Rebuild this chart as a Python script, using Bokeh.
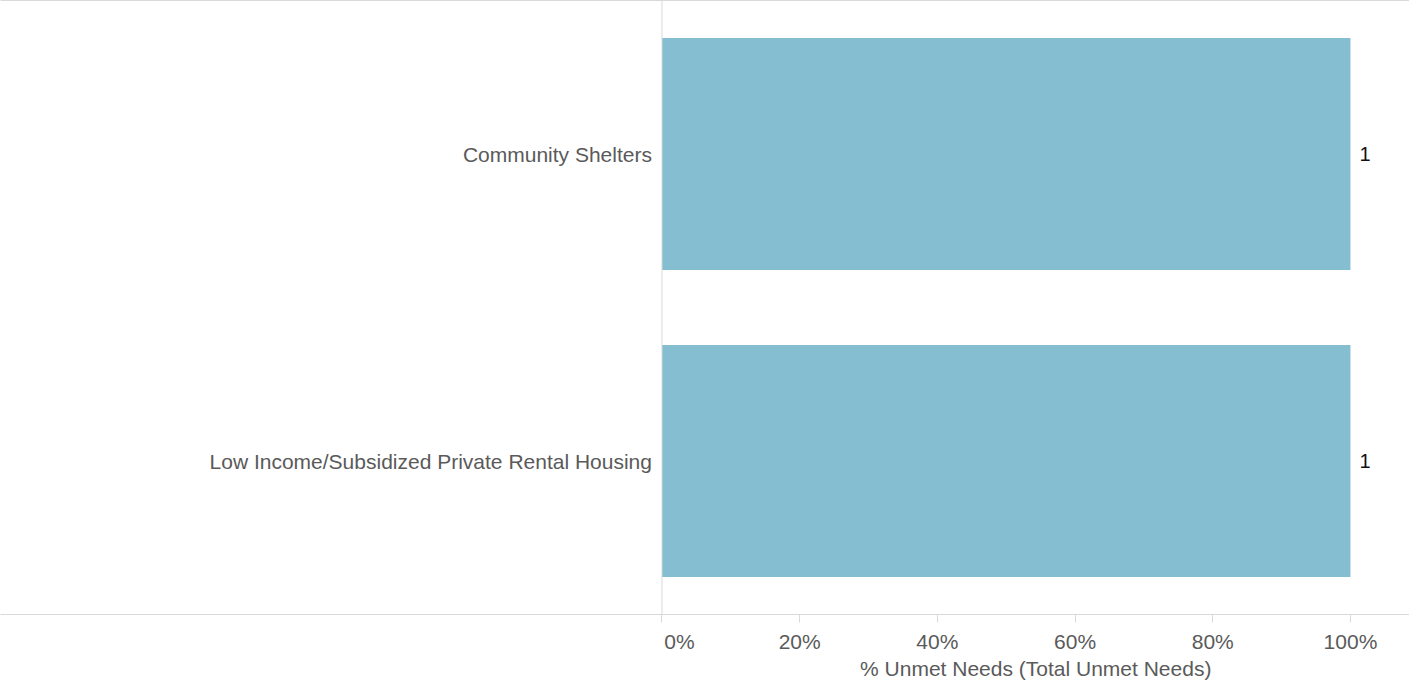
from bokeh.plotting import figure
from bokeh.models import FactorRange, Range1d, LinearAxis, FixedTicker, Span, ColumnDataSource
from bokeh.core.properties import value
from bokeh.embed import file_html
from bokeh.resources import INLINE

# ---- data ----
categories = ["Community Shelters", "Low Income/Subsidized Private Rental Housing"]
shares = [1.0, 1.0]
counts = [1, 1]
tick_values = [0, 0.2, 0.4, 0.6, 0.8, 1.0]
tick_labels = ["0%", "20%", "40%", "60%", "80%", "100%"]
x_title = "% Unmet Needs (Total Unmet Needs)"

# ---- style ----
FONT = "Liberation Sans"
LINE = "#d9d9d9"
TEXT = "#5a5a5a"
BAR = "#85bed0"
FS = "21px"

PX = 688.0                      # pixels per 100 %
x_start = -661 / PX
x_end = 747 / PX

p = figure(width=1409, height=682,
           y_range=FactorRange(factors=list(reversed(categories)), range_padding=0),
           x_range=Range1d(x_start, x_end),
           output_backend="svg", toolbar_location=None,
           min_border_left=0, min_border_right=0, min_border_top=0, min_border_bottom=0)
p.outline_line_color = None
p.xgrid.grid_line_color = None
p.ygrid.grid_line_color = None
p.yaxis.visible = False

src = ColumnDataSource(dict(cat=categories, share=shares,
                            cnt=[str(c) for c in counts],
                            zero=[0] * len(categories)))
p.hbar(y="cat", left="zero", right="share", height=0.756, source=src,
       fill_color=BAR, line_color=None)

# category labels
p.text(x=-10 / PX, y="cat", text="cat", source=src, text_align="right",
       text_baseline="middle", text_color=TEXT, text_font=value(FONT),
       text_font_size=FS)
# value labels
p.text(x="share", y="cat", text="cnt", source=src, x_offset=9, text_align="left",
       text_baseline="middle", text_color="#111111", text_font=value(FONT),
       text_font_size="20px")

# zero line
p.add_layout(Span(location=0, dimension="height", line_color=LINE, line_width=1))

# bottom axis: ticks + labels (first label nudged into the data area)
overrides = {v: l for v, l in zip(tick_values, tick_labels)}
overrides[tick_values[0]] = "\u00a0" * 6 + tick_labels[0]
ax = p.xaxis[0]
ax.ticker = FixedTicker(ticks=tick_values)
ax.major_label_overrides = overrides
ax.axis_line_color = LINE
ax.major_tick_line_color = LINE
ax.major_tick_in = 0
ax.major_tick_out = 8
ax.minor_tick_line_color = None
ax.major_label_standoff = 7
ax.major_label_text_font = FONT
ax.major_label_text_font_size = FS
ax.major_label_text_color = TEXT

# second bottom axis: axis title centred on the data area
title_pos = (1042.5 - 669) / PX
ax3 = LinearAxis(ticker=FixedTicker(ticks=[title_pos]),
                 major_label_overrides={title_pos: x_title},
                 axis_line_color=None, major_tick_line_color=None,
                 minor_tick_line_color=None, major_tick_in=0, major_tick_out=0,
                 major_label_standoff=1, major_label_text_font=FONT,
                 major_label_text_font_size=FS, major_label_text_color=TEXT)
p.add_layout(ax3, "below")

# top and right frame lines
for loc in ("above", "right"):
    a = LinearAxis(ticker=FixedTicker(ticks=[]), axis_line_color=LINE,
                   major_tick_line_color=None, minor_tick_line_color=None,
                   major_tick_in=0, major_tick_out=0)
    p.add_layout(a, loc)

open("out.html", "w").write(file_html(p, INLINE))
